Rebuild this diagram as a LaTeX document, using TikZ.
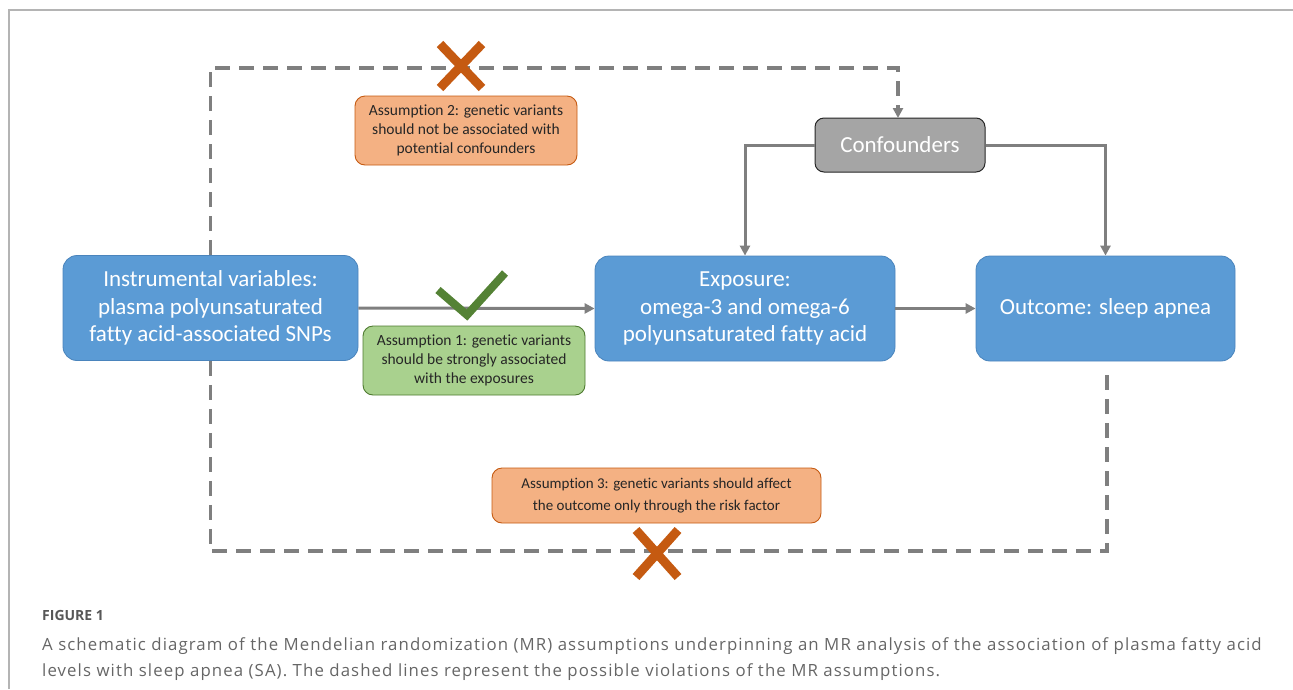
\documentclass[tikz,border=0pt]{standalone}
\usepackage{fontspec}
\setmainfont[Ligatures=NoCommon]{Carlito}
\newfontfamily\captionfont[LetterSpace=6.5]{Open Sans}
\newfontfamily\figlabelfont{Open Sans}
\usetikzlibrary{arrows.meta,positioning}

\definecolor{boxblue}{HTML}{5B9BD5}
\definecolor{boxedge}{HTML}{4A84BC}
\definecolor{confgray}{HTML}{A5A5A5}
\definecolor{linegray}{HTML}{7F7F7F}
\definecolor{notegreen}{HTML}{A9D18E}
\definecolor{greenedge}{HTML}{4E7A30}
\definecolor{noteorange}{HTML}{F4B183}
\definecolor{orangeedge}{HTML}{C55A11}
\definecolor{crossorange}{HTML}{C55A11}
\definecolor{tickgreen}{HTML}{548235}
\definecolor{framegray}{HTML}{B4B4B4}
\definecolor{captiongray}{HTML}{666666}

\tikzset{
  mainbox/.style={rectangle, rounded corners=14pt, fill=boxblue, draw=boxedge, line width=0.8pt,
    text=white, align=center, font=\fontsize{23}{27.5}\selectfont, minimum height=105pt},
  confbox/.style={rectangle, rounded corners=9pt, fill=confgray, draw=black!85, line width=1pt,
    text=white, font=\fontsize{23}{27}\selectfont, minimum width=170pt, minimum height=54pt},
  notebox/.style={rectangle, rounded corners=10pt, align=center, line width=0.9pt, text=black!85,
    font=\fontsize{15.5}{19}\selectfont},
  greennote/.style={notebox, fill=notegreen, draw=greenedge, minimum width=222pt, minimum height=69pt},
  orangenote/.style={notebox, fill=noteorange, draw=orangeedge},
  solidlink/.style={draw=linegray, line width=3pt, -{Triangle[length=10pt,width=10pt]}},
  dashlink/.style={draw=linegray, line width=3.5pt, dash pattern=on 15pt off 9pt},
  crossmark/.style={draw=crossorange, line width=9pt},
  tickmark/.style={draw=tickgreen, line width=8pt},
  captext/.style={anchor=base west, inner sep=0pt, text=captiongray},
}

\begin{document}
\begin{tikzpicture}[x=1pt,y=-1pt]
    \useasboundingbox (0,0) rectangle (1293,689);
    \draw[framegray, line width=1.5pt] (9,689) -- (9,10) -- (1293,10);

    \node[mainbox, minimum width=295pt] (iv) at (210.5,308) {Instrumental variables:\\plasma polyunsaturated\\fatty acid-associated SNPs};
    \node[mainbox, minimum width=300pt] (expo) at (745,308.5) {Exposure:\\omega-3 and omega-6\\polyunsaturated fatty acid};
    \node[mainbox, minimum width=259pt] (outc) at (1105.5,308.5) {Outcome: sleep apnea};
    \node[confbox] (conf) at (900,145) {Confounders};

    \node[greennote] (ass1) at (474,360.5) {Assumption 1: genetic variants\\should be strongly associated\\with the exposures};
    \node[orangenote, minimum width=222pt, minimum height=69pt] (ass2) at (466,130.5) {Assumption 2: genetic variants\\should not be associated with\\potential confounders};
    \node[orangenote, minimum width=329pt, minimum height=55pt, font=\fontsize{15}{21.5}\selectfont] (ass3) at (656.5,495.5) {Assumption 3: genetic variants should affect\\the outcome only through the risk factor};

    % causal path
    \draw[solidlink] (iv.east) -- (expo.west);
    \draw[solidlink] (expo.east) -- (outc.west);
    \draw[solidlink] (conf.west) -| (expo.north);
    \draw[solidlink] (conf.east) -| (outc.north);

    % violations
    \draw[dashlink, -{Triangle[length=10pt,width=10pt]}] (iv.north) |- (898,68) -- (898,118);
    \draw[dashlink, shorten >=14pt] (iv.south) |- (1107,551) -- (outc.south -| 1107,551);

    % marks
    \draw[crossmark] (440,44) -- (482,88) (482,44) -- (440,88);
    \draw[crossmark] (636,530) -- (678,577) (678,530) -- (636,577);
    \draw[tickmark, line join=miter] (438,290) -- (467,315) -- (505,273);

    % caption
    \node[captext, text=captiongray!85!black, font=\figlabelfont\bfseries\fontsize{14}{16}\selectfont] (fig) at (42,620) {FIGURE 1};
    \node[captext, font=\captionfont\fontsize{16.8}{20}\selectfont] (cap1) at (42,650) {A schematic diagram of the Mendelian randomization (MR) assumptions underpinning an MR analysis of the association of plasma fatty acid};
    \node[captext, font=\captionfont\fontsize{16.8}{20}\selectfont] (cap2) at (42,676) {levels with sleep apnea (SA). The dashed lines represent the possible violations of the MR assumptions.};
\end{tikzpicture}
\end{document}
